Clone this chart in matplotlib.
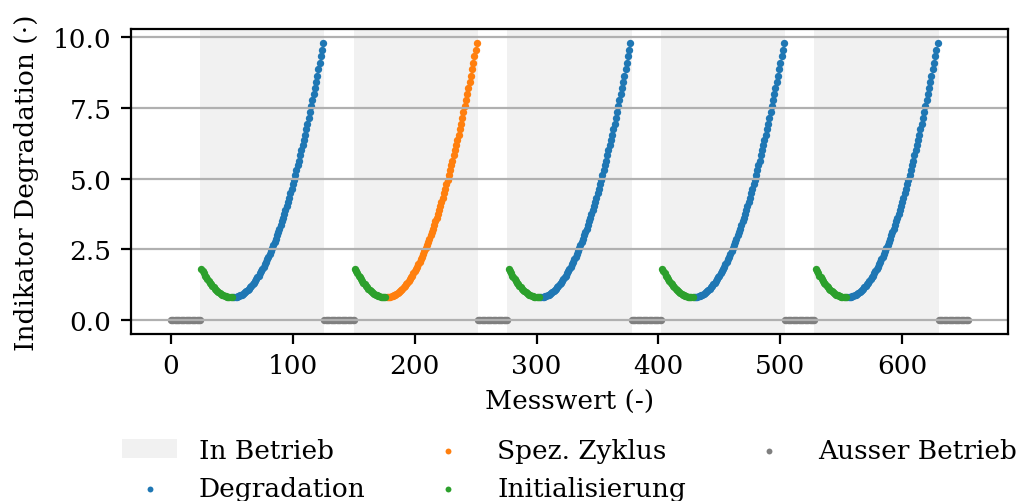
import numpy as np
import matplotlib
matplotlib.use("Agg")
import matplotlib.pyplot as plt

# ---- data (one operating cycle; the cycle repeats) ----
n_cycles = 5
off_len = 25          # points out of operation before/after each cycle
off_value = 0.0
init_vals = [1.80, 1.72, 1.65, 1.57, 1.51, 1.44, 1.38, 1.32, 1.26, 1.21,
             1.16, 1.11, 1.07, 1.03, 0.99, 0.96, 0.93, 0.90, 0.88, 0.86,
             0.84, 0.83, 0.81, 0.81, 0.80, 0.80]
degr_vals = [0.80, 0.81, 0.81, 0.83, 0.84, 0.86, 0.88, 0.90, 0.93, 0.96,
             0.99, 1.03, 1.07, 1.11, 1.16, 1.21, 1.26, 1.32, 1.38, 1.44,
             1.51, 1.57, 1.65, 1.72, 1.80, 1.88, 1.97, 2.05, 2.15, 2.24,
             2.34, 2.44, 2.54, 2.65, 2.76, 2.87, 2.99, 3.11, 3.23, 3.36,
             3.49, 3.62, 3.76, 3.90, 4.04, 4.19, 4.33, 4.49, 4.64, 4.80,
             4.96, 5.13, 5.29, 5.47, 5.64, 5.82, 6.00, 6.18, 6.37, 6.56,
             6.75, 6.95, 7.15, 7.35, 7.56, 7.77, 7.98, 8.20, 8.42, 8.64,
             8.87, 9.09, 9.33, 9.56, 9.80]
special_cycle = 1     # index of the "Spez. Zyklus"
xticks = [0, 100, 200, 300, 400, 500, 600]
yticks = [0.0, 2.5, 5.0, 7.5, 10.0]

# ---- build series ----
plt.rcParams['font.family'] = ['DejaVu Serif']
plt.rcParams['font.size'] = 9.5

off_x, off_y = [], []
init_x, init_y = [], []
deg_x, deg_y = [], []
spec_x, spec_y = [], []
spans = []
pos = 0
for c in range(n_cycles):
    for i in range(off_len):
        off_x.append(pos); off_y.append(off_value); pos += 1
    start = pos
    for v in init_vals:
        init_x.append(pos); init_y.append(v); pos += 1
    for v in degr_vals:
        if c == special_cycle:
            spec_x.append(pos); spec_y.append(v)
        else:
            deg_x.append(pos); deg_y.append(v)
        pos += 1
    spans.append((start - 1, pos))
for i in range(off_len):
    off_x.append(pos); off_y.append(off_value); pos += 1

fig = plt.figure(figsize=(5.08, 2.51), dpi=200)
ax = fig.add_axes([0.129, 0.333, 0.863, 0.607])

for k, (a, b) in enumerate(spans):
    ax.axvspan(a, b, color='lightgrey', alpha=0.3, lw=0,
               label='In Betrieb' if k == 0 else None)
ms = 7
ax.scatter(deg_x, deg_y, s=ms, color='tab:blue', label='Degradation', lw=0)
ax.scatter(spec_x, spec_y, s=ms, color='tab:orange', label='Spez. Zyklus', lw=0)
ax.scatter(init_x, init_y, s=ms, color='tab:green', label='Initialisierung', lw=0)
ax.scatter(off_x, off_y, s=ms, color='tab:gray', label='Ausser Betrieb', lw=0)

ax.yaxis.grid(True)
ax.set_xticks(xticks)
ax.set_yticks(yticks)
ax.set_xlabel('Messwert (-)')
ax.set_ylabel('Indikator Degradation (·)', labelpad=5)
leg = ax.legend(loc='upper center', bbox_to_anchor=(0.5, -0.272), ncol=3,
                frameon=False, columnspacing=2.1, labelspacing=0.5,
                handlelength=2.1, borderpad=0.3, markerscale=0.8)

fig.savefig('out.png', dpi=200)
